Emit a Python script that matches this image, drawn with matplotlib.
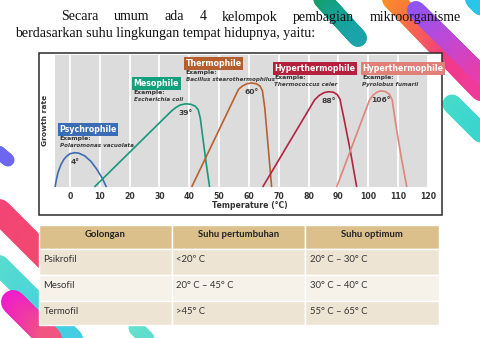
import numpy as np
import matplotlib
matplotlib.use("Agg")
import matplotlib.pyplot as plt
from matplotlib.collections import LineCollection
from matplotlib.patches import Rectangle
from matplotlib.colors import LinearSegmentedColormap

# ---------------- data ----------------
intro_line1 = "Secara umum ada 4 kelompok pembagian mikroorganisme"
intro_line2 = "berdasarkan suhu lingkungan tempat hidupnya, yaitu:"

temp_ticks = [0, 10, 20, 30, 40, 50, 60, 70, 80, 90, 100, 110, 120]

groups = ["Psychrophile", "Mesophile", "Thermophile", "Hyperthermophile", "Hyperthermophile"]
examples = ["Polaromonas vacuolata", "Escherichia coli", "Bacillus stearothermophilus",
            "Thermococcus celer", "Pyrolobus fumarii"]
optimum_labels = ["4°", "39°", "60°", "88°", "106°"]

psychro_t = [-5, -4.5, -4, -3, -2, -1, 0, 1.6, 3, 5, 7, 9, 11, 12.2]
psychro_r = [0, 0.06, 0.11, 0.17, 0.21, 0.235, 0.252, 0.26, 0.256, 0.235, 0.195, 0.135, 0.06, 0]

meso_t = [8.2, 34, 35.5, 37, 38.8, 40.5, 42, 43, 43.7, 44.5, 45.6, 46.8]
meso_r = [0, 0.575, 0.602, 0.622, 0.63, 0.627, 0.612, 0.585, 0.52, 0.38, 0.19, 0]

thermo_t = [40.8, 56.5, 57.8, 59.3, 60.9, 62.5, 63.7, 64.5, 65.3, 66.3, 67.6]
thermo_r = [0, 0.74, 0.765, 0.782, 0.788, 0.782, 0.765, 0.73, 0.6, 0.34, 0]

hyper1_t = [64.6, 82, 83.6, 85.2, 86.7, 88.3, 89.6, 90.5, 92, 94, 96.1]
hyper1_r = [0, 0.66, 0.695, 0.715, 0.722, 0.718, 0.7, 0.665, 0.5, 0.27, 0]

hyper2_t = [89.4, 100.5, 101.8, 103, 104.2, 105.6, 107, 108, 109.3, 111, 112.9]
hyper2_r = [0, 0.665, 0.7, 0.72, 0.728, 0.724, 0.705, 0.66, 0.46, 0.23, 0]

curves_t = [psychro_t, meso_t, thermo_t, hyper1_t, hyper2_t]
curves_r = [psychro_r, meso_r, thermo_r, hyper1_r, hyper2_r]

table_header = ["Golongan", "Suhu pertumbuhan", "Suhu optimum"]
table_rows = [
    ["Psikrofil", "<20º C", "20° C – 30° C"],
    ["Mesofil", "20° C – 45° C", "30° C – 40° C"],
    ["Termofil", ">45° C", "55° C – 65° C"],
]

# ---------------- styling ----------------
line_colors = ["#3d6db0", "#17987a", "#b8612e", "#b3243f", "#e0857a"]
box_colors = ["#3b6db6", "#14a07d", "#b55f2f", "#b5203c", "#e08078"]
box_pos = [(58, 125), (132, 79), (184, 59), (273, 64), (361, 64)]

W, H = 480, 338
fig = plt.figure(figsize=(4.8, 3.38), dpi=100)
fig.patch.set_facecolor("white")

bg = fig.add_axes([0, 0, 1, 1], zorder=0)
bg.set_xlim(0, W)
bg.set_ylim(H, 0)
bg.axis("off")


def stripe(p0, p1, width, colors, z=1):
    n = 60
    xs = np.linspace(p0[0], p1[0], n + 1)
    ys = np.linspace(p0[1], p1[1], n + 1)
    segs = [[(xs[i], ys[i]), (xs[i + 1], ys[i + 1])] for i in range(n)]
    cmap = LinearSegmentedColormap.from_list("stripe", colors)
    lc = LineCollection(segs, colors=cmap(np.linspace(0, 1, n)),
                        linewidths=width * 0.72, capstyle="round", zorder=z)
    bg.add_collection(lc)


# decorative diagonal ribbons
stripe((314, -10), (358, 38), 18, ["#10a048", "#15a08a", "#1aa3a8"])
stripe((384, -10), (490, 100), 21, ["#fb9c1a", "#f76a4a", "#f23a86", "#ee3aa0"])
stripe((416, 10), (495, 88), 18, ["#8d55f6", "#c447d0", "#f43a9e"])
stripe((466, -10), (500, 26), 19, ["#27c4ec", "#2bc6e8"])
stripe((452, 104), (500, 152), 19, ["#45dccb", "#35d0d0"])
stripe((-30, 128), (8, 160), 13, ["#4f8cf2", "#6f66f0"])
stripe((-30, 182), (60, 272), 24, ["#f2407a", "#f24a6e"])
stripe((-40, 220), (-1, 256), 16, ["#f79a2c", "#f7862e"])
stripe((-30, 236), (100, 366), 20, ["#66e2c8", "#4cd6d8", "#3cc8ea"])
stripe((13, 302), (75, 364), 24, ["#f01ccc", "#f04890", "#f7883a"])
stripe((136, 328), (160, 352), 15, ["#66e2cc", "#5ad8cc"])

# introductory paragraph in a serif face, first line justified
serif = "Liberation Serif"
probe = bg.text(15, 34, intro_line2, fontsize=10, family=serif, va="center", ha="left", color="#111111", zorder=5)
fig.canvas.draw()
renderer = fig.canvas.get_renderer()
w2 = probe.get_window_extent(renderer).width
fs = 10 * 300.0 / w2
probe.set_fontsize(fs)

words = intro_line1.split()
word_artists = [bg.text(0, 17, w, fontsize=fs, family=serif, va="center", ha="left",
                        color="#111111", zorder=5) for w in words]
fig.canvas.draw()
widths = [a.get_window_extent(renderer).width for a in word_artists]
x_start, x_end = 61, 461
gap = (x_end - x_start - sum(widths)) / (len(words) - 1)
xpos = x_start
for a, wd in zip(word_artists, widths):
    a.set_x(xpos)
    xpos += wd + gap

# frame around the chart
bg.add_patch(Rectangle((38.5, 52.5), 403, 162, facecolor="white", edgecolor="#2b2b2b",
                       lw=1.1, zorder=3))

# ---------------- chart ----------------
ax = fig.add_axes([55 / W, 1 - 187 / H, 373 / W, 132 / H], zorder=1)
ax.set_facecolor("#dcdcdc")
ax.set_xlim(-5, 120)
ax.set_ylim(0, 1)
for s in ax.spines.values():
    s.set_visible(False)
ax.set_xticks(temp_ticks)
ax.set_yticks([])
ax.tick_params(axis="x", length=0, pad=3.5, labelsize=5.6, labelcolor="#333333")
for lab in ax.get_xticklabels():
    lab.set_fontweight("bold")
ax.grid(axis="x", color="white", lw=1.3)
ax.set_axisbelow(True)

for t, r, c, lab in zip(curves_t, curves_r, line_colors, optimum_labels):
    ax.plot(t, r, color=c, lw=1.2, solid_capstyle="butt", clip_on=False, zorder=3)
    k = int(np.argmax(r))
    ax.annotate(lab, xy=(t[k], r[k]), xytext=(0, -6.5), textcoords="offset points",
                ha="center", va="center", fontsize=5.4, fontweight="bold", color="#3a3a3a",
                zorder=4)

ov = fig.add_axes([0, 0, 1, 1], zorder=2)
ov.set_xlim(0, W)
ov.set_ylim(H, 0)
ov.axis("off")

for (x, y), name, ex, bc in zip(box_pos, groups, examples, box_colors):
    ov.text(x + 1.5, y + 4.5, name, fontsize=5.7, fontweight="bold", color="white",
            ha="left", va="center", family="DejaVu Sans",
            bbox=dict(boxstyle="square,pad=0.2", fc=bc, ec="none"))
    ov.text(x + 1.5, y + 13.5, "Example:", fontsize=4.4, fontweight="bold",
            color="#333333", ha="left", va="center")
    ov.text(x + 1.5, y + 20.3, ex, fontsize=4.1, style="italic", fontweight="bold",
            color="#3a3a3a", ha="left", va="center")

ov.text(45, 120, "Growth rate", rotation=90, fontsize=5.4, fontweight="bold",
        color="#333333", ha="center", va="center")
ov.text(250, 206, "Temperature (°C)", fontsize=5.6, fontweight="bold",
        color="#333333", ha="center", va="center")

# ---------------- table ----------------
col_edges = [39, 172, 305, 439]
row_edges = [225, 249, 275, 301, 325]
row_fills = ["#dcc08c", "#eee4d4", "#f6f1e9", "#eee4d4"]
tfont = "Lato"
for ri in range(4):
    for ci in range(3):
        x0, x1 = col_edges[ci], col_edges[ci + 1]
        y0, y1 = row_edges[ri], row_edges[ri + 1]
        bg.add_patch(Rectangle((x0, y0), x1 - x0, y1 - y0, facecolor=row_fills[ri],
                               edgecolor="white", lw=1.0, zorder=4))
        if ri == 0:
            bg.text((x0 + x1) / 2, y0 + 9.5, table_header[ci], ha="center", va="center",
                    fontsize=6.8, fontweight="bold", family=tfont, color="#222222", zorder=5)
        else:
            bg.text(x0 + 4.5, y0 + 10, table_rows[ri - 1][ci], ha="left", va="center",
                    fontsize=6.8, family=tfont, color="#333333", zorder=5)

fig.savefig("out.png", dpi=100)
